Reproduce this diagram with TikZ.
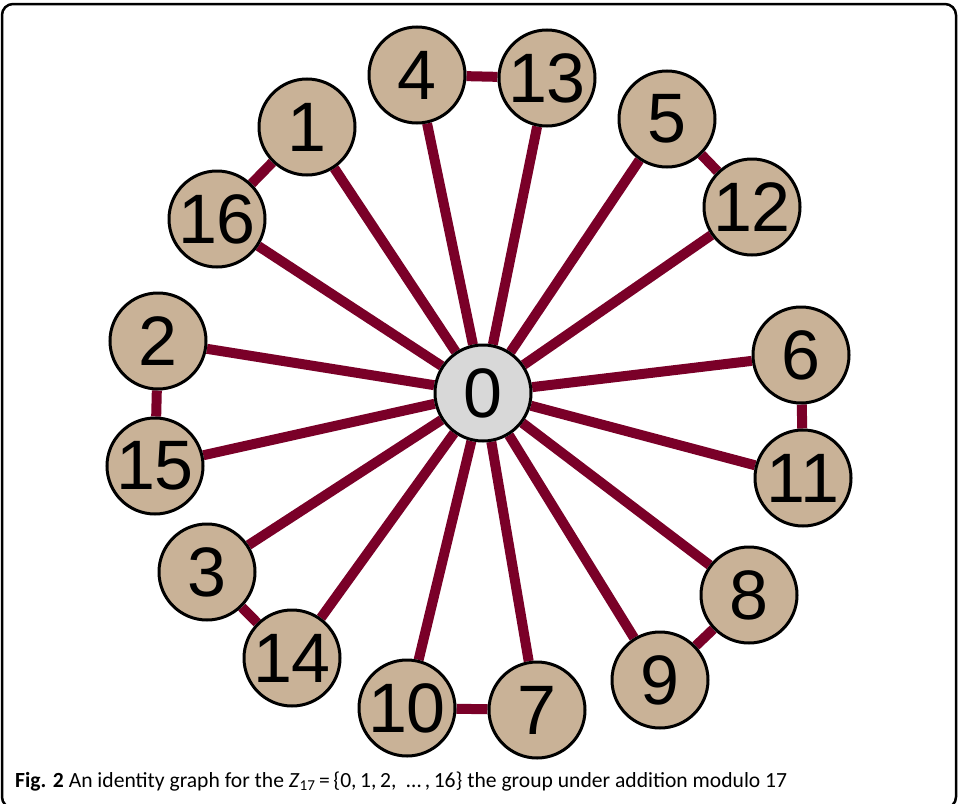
\documentclass[tikz,border=0pt]{standalone}
\usepackage{fontspec}
\setmainfont{Liberation Sans}
\newfontfamily\capfont{Carlito}
\usepackage{tikz}
\usetikzlibrary{backgrounds}

\definecolor{spokered}{RGB}{122,0,40}
\definecolor{elemtan}{RGB}{201,178,151}
\definecolor{idgray}{RGB}{216,216,216}

\begin{document}
\begin{tikzpicture}[
  x=1pt, y=-1pt,
  elem/.style={circle, draw=black, line width=3pt, fill=elemtan, inner sep=0pt,
    minimum size=96pt, font=\fontsize{70}{70}\selectfont},
  ident/.style={elem, fill=idgray},
  spoke/.style={draw=spokered, line width=10pt},
  caption/.style={font=\capfont\fontsize{21.6}{24}\selectfont, inner sep=0pt}
]
\useasboundingbox (0,0) rectangle (958,803);
\draw[line width=2.5pt, rounded corners=11pt] (2,4) rectangle (956,808);

% identity in the middle, the other elements round it
\node[ident] (n0) at (483,393) {0};
\foreach \n/\x/\y in {4/417/75, 13/547/78, 1/307/127, 5/667/119, 16/217/219,
    12/752/207, 2/158/341, 6/801/355, 15/155/466, 11/803/478, 3/207/572,
    8/749/595, 14/292/658, 9/660/680, 10/407/708, 7/537/710}
  \node[elem] (n\n) at (\x,\y) {\n};

\begin{scope}[on background layer]
  \foreach \n in {1,...,16}
    \draw[spoke] (n0) -- (n\n);
  \foreach \a/\b in {4/13, 1/16, 5/12, 2/15, 6/11, 3/14, 8/9, 10/7}
    \draw[spoke] (n\a) -- (n\b);
\end{scope}

\node[caption, anchor=base west] (cap) at (15,787)
  {\textbf{Fig. 2} An identity graph for the \textit{Z}\textsubscript{17}\,=\,\{0,\,1,\,2,\ \ \dots\,,\,16\} the group under addition modulo 17};
\end{tikzpicture}
\end{document}
